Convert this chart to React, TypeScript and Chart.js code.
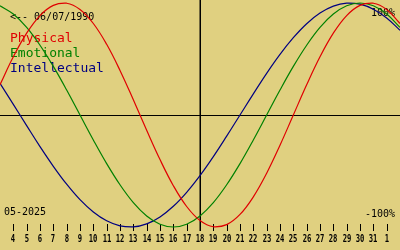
import React, { useEffect, useRef } from "react";
import { Chart, registerables } from "chart.js";

Chart.register(...registerables);

// Days of May 2025 shown (x axis), current day = 18
const days = [3, 4, 5, 6, 7, 8, 9, 10, 11, 12, 13, 14, 15, 16, 17, 18, 19, 20, 21, 22, 23, 24, 25, 26, 27, 28, 29, 30, 31, 32, 33];

const physical = [0.27, 0.52, 0.731, 0.888, 0.979, 0.998, 0.942, 0.817, 0.631, 0.398, 0.136, -0.136, -0.398, -0.631, -0.817, -0.942, -0.998, -0.979, -0.888, -0.731, -0.52, -0.27, 0, 0.27, 0.52, 0.731, 0.888, 0.979, 0.998, 0.942, 0.817];
const emotional = [0.975, 0.901, 0.782, 0.623, 0.434, 0.223, 0, -0.223, -0.434, -0.623, -0.782, -0.901, -0.975, -1, -0.975, -0.901, -0.782, -0.623, -0.434, -0.223, 0, 0.223, 0.434, 0.623, 0.782, 0.901, 0.975, 1, 0.975, 0.901, 0.782];
const intellectual = [0.282, 0.095, -0.095, -0.282, -0.458, -0.618, -0.756, -0.866, -0.945, -0.99, -0.999, -0.972, -0.91, -0.815, -0.69, -0.541, -0.372, -0.189, 0, 0.189, 0.372, 0.541, 0.69, 0.815, 0.91, 0.972, 0.999, 0.99, 0.945, 0.866, 0.756];

const tickDays = [4, 5, 6, 7, 8, 9, 10, 11, 12, 13, 14, 15, 16, 17, 18, 19, 20, 21, 22, 23, 24, 25, 26, 27, 28, 29, 30, 31, 32];
const tickLabels = ["4", "5", "6", "7", "8", "9", "10", "11", "12", "13", "14", "15", "16", "17", "18", "19", "20", "21", "22", "23", "24", "25", "26", "27", "28", "29", "30", "31", "1"];
const today = 18;

const seriesNames = ["Physical", "Emotional", "Intellectual"];
const seriesColors = ["#e00000", "#008000", "#000080"];
const birthLabel = "<-- 06/07/1990";
const monthLabel = "05-2025";
const topLabel = "100%";
const bottomLabel = "-100%";

const BG = "#e0d080";
const MONO = '"DejaVu Sans Mono", monospace';

const decorPlugin = {
  id: "decor",
  beforeDraw(chart: any) {
    const { ctx, width, height } = chart;
    ctx.save();
    ctx.fillStyle = BG;
    ctx.fillRect(0, 0, width, height);
    const xs = chart.scales.x;
    const ys = chart.scales.y;
    ctx.fillStyle = "#000000";
    // zero line
    const y0 = Math.floor(ys.getPixelForValue(0));
    ctx.fillRect(0, y0, width, 1);
    // today line
    const xt = Math.round(xs.getPixelForValue(today));
    ctx.fillRect(xt - 0.5, 0, 1.5, 231);
    // ticks & labels
    ctx.textBaseline = "alphabetic";
    tickDays.forEach((d, i) => {
      const x = Math.round(xs.getPixelForValue(d));
      ctx.fillRect(x, 224, 1, 7);
      ctx.save();
      ctx.translate(x, 241.5);
      ctx.scale(0.72, 1);
      ctx.font = "bold 10px " + MONO;
      ctx.textAlign = "center";
      ctx.fillText(tickLabels[i], 0, 0);
      ctx.restore();
    });
    // texts
    ctx.font = "10px " + MONO;
    ctx.textAlign = "left";
    ctx.fillText(birthLabel, 10, 20);
    ctx.fillText(monthLabel, 4, 215);
    ctx.textAlign = "right";
    ctx.fillText(topLabel, 395, 16);
    ctx.fillText(bottomLabel, 395, 217);
    ctx.font = "13px " + MONO;
    ctx.textAlign = "left";
    seriesNames.forEach((n, i) => {
      ctx.fillStyle = seriesColors[i];
      ctx.fillText(n, 10, 42 + i * 15);
    });
    ctx.restore();
  },
};

export default function App() {
  const ref = useRef<HTMLCanvasElement>(null);
  useEffect(() => {
    document.body.style.margin = "0";
    const canvas = ref.current!;
    const series = [physical, emotional, intellectual];
    const chart = new Chart(canvas, {
      type: "line",
      data: {
        datasets: series.map((vals, i) => ({
          label: seriesNames[i],
          data: days.map((d, j) => ({ x: d, y: vals[j] })),
          borderColor: seriesColors[i],
          borderWidth: 1.2,
          pointRadius: 0,
          tension: 0.4,
          fill: false,
          clip: false as any,
        })),
      },
      options: {
        animation: false,
        responsive: false,
        devicePixelRatio: 1,
        layout: { padding: { top: 3, bottom: 23, left: 0, right: 0 } },
        plugins: { legend: { display: false }, tooltip: { enabled: false } },
        scales: {
          x: { type: "linear", min: 3, max: 33, display: false },
          y: { min: -1, max: 1, display: false },
        },
      },
      plugins: [decorPlugin],
    });
    return () => chart.destroy();
  }, []);
  return <canvas ref={ref} width={400} height={250} style={{ display: "block", width: 400, height: 250 }} />;
}
